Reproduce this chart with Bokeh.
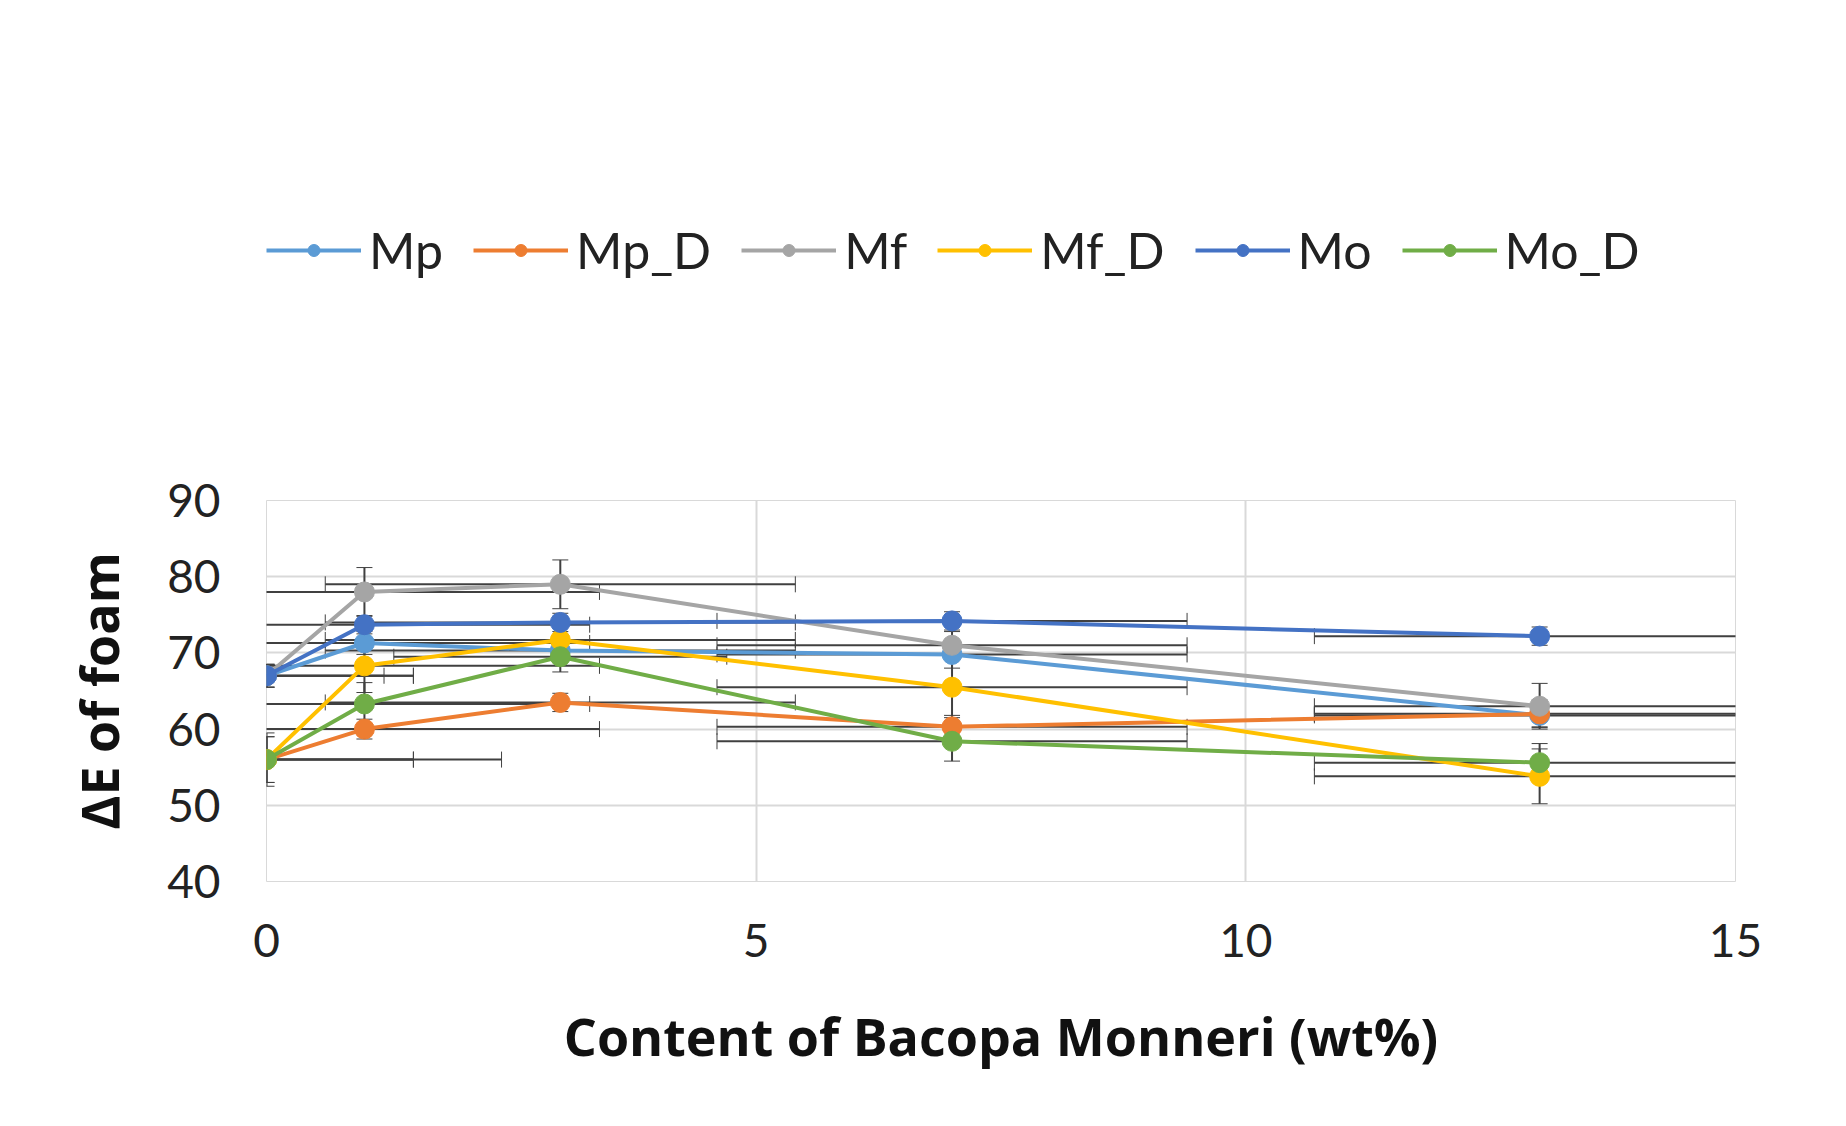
from bokeh.plotting import figure
from bokeh.models import ColumnDataSource, Whisker, Legend, LegendItem, Range1d, FixedTicker
from bokeh.embed import file_html
from bokeh.resources import INLINE

x = [0, 1, 3, 7, 13]
names = ["Mp", "Mp_D", "Mf", "Mf_D", "Mo", "Mo_D"]
colors = ["#5B9BD5", "#ED7D31", "#A5A5A5", "#FFC000", "#4472C4", "#70AD47"]
values = {
    "Mp":   [67.0, 71.3, 70.3, 69.8, 61.8],
    "Mp_D": [56.0, 60.0, 63.5, 60.3, 62.0],
    "Mf":   [67.0, 78.0, 79.0, 71.0, 63.0],
    "Mf_D": [56.0, 68.3, 71.7, 65.5, 53.8],
    "Mo":   [67.0, 73.7, 74.0, 74.2, 72.2],
    "Mo_D": [56.0, 63.3, 69.5, 58.4, 55.6],
}
yerr = {
    "Mp":   [1.5, 1.5, 1.5, 1.8, 1.5],
    "Mp_D": [3.5, 1.3, 1.2, 1.5, 1.8],
    "Mf":   [1.5, 3.2, 3.2, 1.8, 3.0],
    "Mf_D": [3.0, 3.5, 2.0, 4.0, 3.6],
    "Mo":   [1.5, 1.2, 1.2, 1.2, 1.2],
    "Mo_D": [3.0, 2.8, 2.0, 2.6, 2.5],
}
xerr = {
    "Mp":   [1.2, 2.3, 2.4, 2.4, 2.3],
    "Mp_D": [2.4, 2.4, 2.4, 2.4, 2.3],
    "Mf":   [1.5, 2.4, 2.4, 2.4, 2.3],
    "Mf_D": [1.5, 2.4, 2.4, 2.4, 2.3],
    "Mo":   [1.5, 2.3, 2.4, 2.4, 2.3],
    "Mo_D": [1.5, 2.3, 1.7, 2.4, 2.3],
}

p = figure(width=1830, height=1110, output_backend="svg", toolbar_location=None,
           x_range=Range1d(0, 15), y_range=Range1d(40, 90),
           min_border_left=266, min_border_right=95, min_border_top=208, min_border_bottom=229)
p.outline_line_color = "#d9d9d9"
p.xgrid.grid_line_color = "#d9d9d9"
p.ygrid.grid_line_color = "#d9d9d9"
p.xgrid.grid_line_width = 2
p.ygrid.grid_line_width = 2
p.xaxis.ticker = FixedTicker(ticks=[0, 5, 10, 15])
p.yaxis.ticker = FixedTicker(ticks=[40, 50, 60, 70, 80, 90])
for ax in (p.xaxis[0], p.yaxis[0]):
    ax.axis_line_color = None
    ax.major_tick_line_color = None
    ax.minor_tick_line_color = None
    ax.major_label_text_font = "Lato"
    ax.major_label_text_font_size = "46px"
    ax.major_label_text_color = "#222222"
    ax.axis_label_text_font = "Open Sans"
    ax.axis_label_text_font_style = "bold"
    ax.axis_label_text_font_size = "52px"
    ax.axis_label_text_color = "#111111"
p.xaxis.axis_label = "Content of Bacopa Monneri (wt%)"
p.yaxis.axis_label = "ΔE of foam"
p.xaxis.major_label_standoff = 36
p.yaxis.major_label_standoff = 40
p.xaxis.axis_label_standoff = 40
p.yaxis.axis_label_standoff = 30

for n, c in zip(names, colors):
    ys = values[n]
    src = ColumnDataSource(dict(
        x=x, y=ys,
        yl=[v - e for v, e in zip(ys, yerr[n])], yu=[v + e for v, e in zip(ys, yerr[n])],
        xl=[a - e for a, e in zip(x, xerr[n])], xu=[a + e for a, e in zip(x, xerr[n])],
    ))
    for base, lo, up, dim in (("y", "xl", "xu", "width"), ("x", "yl", "yu", "height")):
        w = Whisker(base=base, lower=lo, upper=up, source=src, dimension=dim,
                    line_color="#404040", line_width=2)
        w.upper_head.line_color = "#404040"; w.lower_head.line_color = "#404040"
        w.upper_head.size = 16; w.lower_head.size = 16
        p.add_layout(w)

items = []
for n, c in zip(names, colors):
    src = ColumnDataSource(dict(x=x, y=values[n]))
    l = p.line("x", "y", source=src, line_color=c, line_width=4)
    s = p.scatter("x", "y", source=src, size=20, fill_color=c, line_color=c)
    items.append(LegendItem(label=n, renderers=[l, s]))

leg = Legend(items=items, orientation="horizontal", location="top_left",
             label_text_font="Lato", label_text_font_size="50px", label_text_color="#222222",
             glyph_width=95, glyph_height=30, spacing=30, label_standoff=8,
             margin=0, padding=0, background_fill_alpha=0, border_line_color=None)
p.add_layout(leg, "above")
leg.margin = 0
p.min_border_top = 208

open("out.html", "w").write(file_html(p, INLINE))
